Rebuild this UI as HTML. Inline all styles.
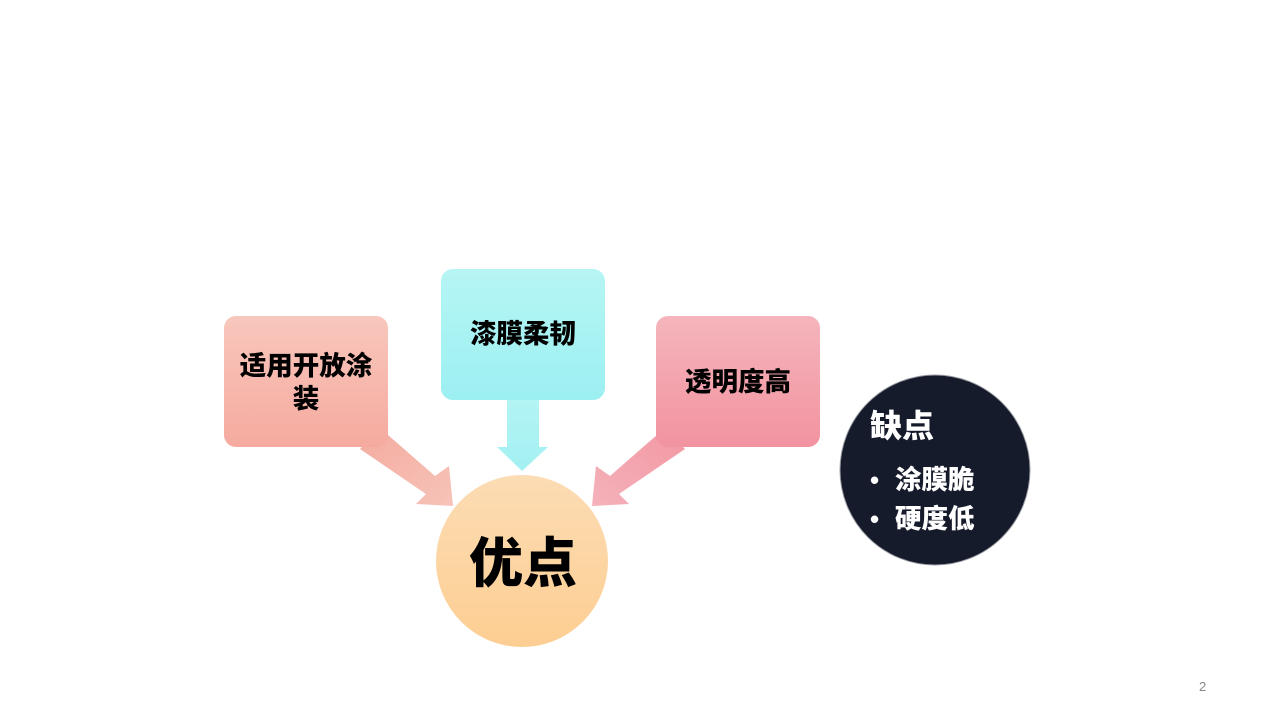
<!DOCTYPE html>
<html><head><meta charset="utf-8"><style>
html,body{margin:0;padding:0;background:#fff;}
svg{display:block;}
text{font-family:"Liberation Sans","Noto Sans CJK SC",sans-serif;font-weight:900;}
</style></head><body>
<svg width="1280" height="720" viewBox="0 0 1280 720" xmlns="http://www.w3.org/2000/svg">
<defs>
<linearGradient id="gl" x1="0" y1="0" x2="0" y2="1"><stop offset="0" stop-color="#f8c7bd"/><stop offset="1" stop-color="#f6aa9f"/></linearGradient>
<linearGradient id="gm" x1="0" y1="0" x2="0" y2="1"><stop offset="0" stop-color="#b6f5f4"/><stop offset="1" stop-color="#9cf0f2"/></linearGradient>
<linearGradient id="gr" x1="0" y1="0" x2="0" y2="1"><stop offset="0" stop-color="#f5b5bc"/><stop offset="1" stop-color="#f293a0"/></linearGradient>
<linearGradient id="gc" x1="0" y1="0" x2="0" y2="1"><stop offset="0" stop-color="#fcdcb4"/><stop offset="1" stop-color="#fdce92"/></linearGradient>
<linearGradient id="al" x1="0" y1="0" x2="1" y2="1"><stop offset="0" stop-color="#f4ab9f"/><stop offset="1" stop-color="#f7c3b9"/></linearGradient>
<linearGradient id="am" x1="0" y1="0" x2="0" y2="1"><stop offset="0" stop-color="#b4f4f4"/><stop offset="1" stop-color="#a3f0f2"/></linearGradient>
<linearGradient id="ar" x1="1" y1="0" x2="0" y2="1"><stop offset="0" stop-color="#f297a3"/><stop offset="1" stop-color="#f5b2ba"/></linearGradient>
</defs>
<polygon points="380,428 435,476 449,466 453,506 416,504 426,494 360,449" fill="url(#al)"/>
<polygon points="665,428 610,476 596,466 592,506 629,504 619,494 685,449" fill="url(#ar)"/>
<polygon points="507,398 539,398 539,447 548,447 522,471 497,447 507,447" fill="url(#am)"/>
<rect x="224" y="316" width="164" height="131" rx="12" fill="url(#gl)"/>
<rect x="441" y="269" width="164" height="131" rx="12" fill="url(#gm)"/>
<rect x="656" y="316" width="164" height="131" rx="12" fill="url(#gr)"/>
<circle cx="522" cy="561" r="86" fill="url(#gc)"/>
<circle cx="935" cy="470" r="95" fill="#161b2c" stroke="#9a9ca3" stroke-width="1"/>
<text x="306" y="375" font-size="26.5" text-anchor="middle" fill="#000">适用开放涂</text>
<text x="306" y="408" font-size="26.5" text-anchor="middle" fill="#000">装</text>
<text x="523" y="343" font-size="26.5" text-anchor="middle" fill="#000">漆膜柔韧</text>
<text x="738" y="391" font-size="26.5" text-anchor="middle" fill="#000">透明度高</text>
<text x="523" y="582" font-size="54" text-anchor="middle" fill="#000">优点</text>
<text x="870" y="437" font-size="32" fill="#fff">缺点</text>
<text x="870" y="489" font-size="26" fill="#fff">•</text>
<text x="895" y="489" font-size="26.5" fill="#fff">涂膜脆</text>
<text x="870" y="528" font-size="26" fill="#fff">•</text>
<text x="895" y="528" font-size="26.5" fill="#fff">硬度低</text>
<text x="1199" y="691" font-size="13" style="font-weight:normal" fill="#888">2</text>
</svg>
</body></html>
